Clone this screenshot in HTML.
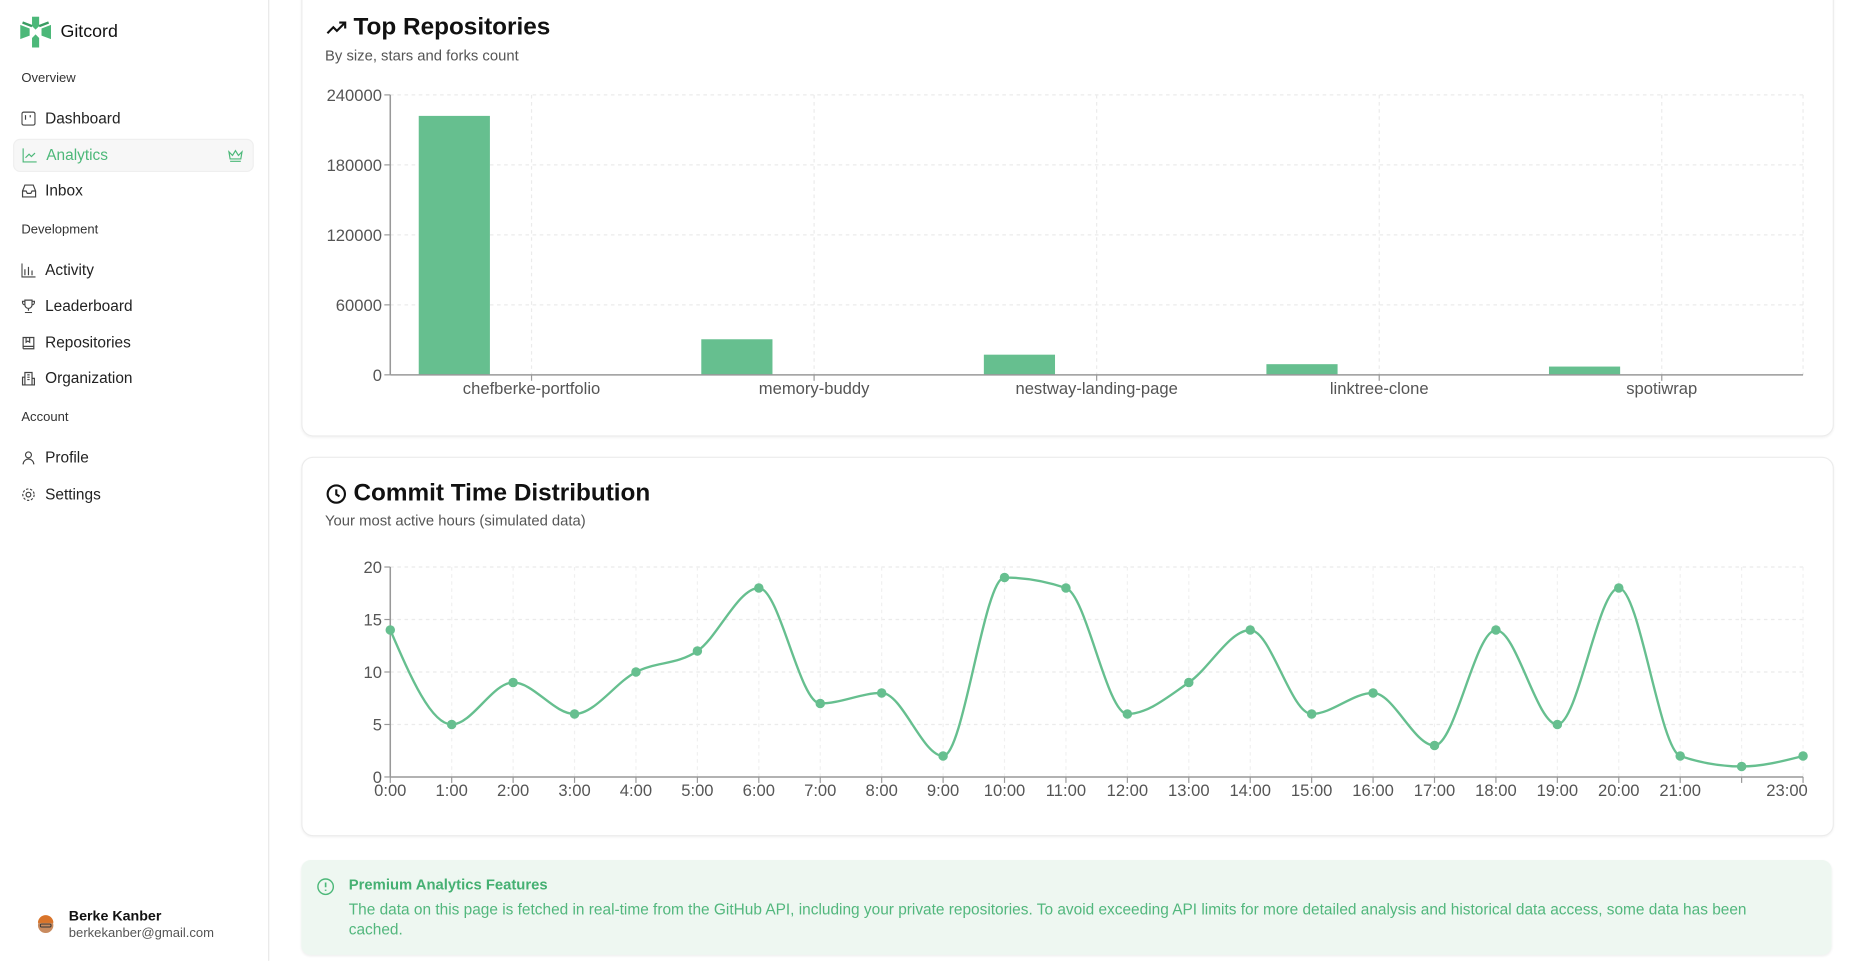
<!DOCTYPE html>
<html><head><meta charset="utf-8">
<style>
html,body{margin:0;padding:0;width:1860px;height:960px;overflow:hidden;background:#fff;font-family:"Liberation Sans",sans-serif;}
#root{position:absolute;left:0;top:0;width:1568px;height:810px;transform:scale(1.18622);transform-origin:0 0;}
.abs{position:absolute;}
.side{left:0;top:0;width:226px;height:810px;border-right:1px solid #e8e8e8;}
.sec{left:18px;font-size:11px;color:#333;font-weight:500;}
.item{left:11px;width:201px;height:26px;font-size:13px;color:#222;border-radius:6px;}
.item span.t{position:absolute;left:27px;top:5px;}
.item svg{position:absolute;left:7px;top:7px;}
.card{left:254px;width:1290px;border:1px solid #ececec;border-radius:10px;background:#fff;box-shadow:0 1px 2px rgba(0,0,0,.05);}
.title{font-size:20.5px;font-weight:700;color:#111;}
.sub{font-size:12.5px;color:#555;}
</style></head><body>
<div id="root">
<div class="abs side">
  <svg class="abs" style="left:17px;top:14px" width="26" height="26" viewBox="0 0 26 26"><path d="M10 0h6v8l-3 3-3-3zM0 7l8 3v6L0 19zM26 7l-8 3v6l8 3zM10 26h6v-8l-3-3-3 3z" fill="#4cb879"/><path d="M2 5l8 3M24 5l-8 3" stroke="#3a9c62" stroke-width="2"/></svg>
  <div class="abs" style="left:51px;top:18px;font-size:15px;color:#111">Gitcord</div>
  <div class="abs sec" style="top:60px">Overview</div>
  <div class="abs item" style="top:87px"><svg width="12" height="12"><rect x="0.5" y="0.5" width="11" height="11" rx="1.5" fill="none" stroke="#444"/><path d="M3.5 3v4M7.5 3v2" stroke="#444"/></svg><span class="t">Dashboard</span></div>
  <div class="abs item" style="top:117px;background:#f7f7f7;border:1px solid #efefef;color:#4cb879"><svg width="12" height="12"><path d="M0.5 0v11.5H12M2.5 8l3-3 2 2 3-3" fill="none" stroke="#4cb879"/></svg><span class="t">Analytics</span><svg style="left:180px;top:7px" width="13" height="12"><path d="M1 3l3 3 2.5-4 2.5 4 3-3-1 6H2z M2 11h9" fill="none" stroke="#4cb879"/></svg></div>
  <div class="abs item" style="top:148px"><svg width="13" height="12"><path d="M1 6l2-5h7l2 5v5H1zM1 6h3l1 2h3l1-2h3" fill="none" stroke="#444"/></svg><span class="t">Inbox</span></div>
  <div class="abs sec" style="top:188px">Development</div>
  <div class="abs item" style="top:215px"><svg width="12" height="12"><path d="M0.5 0v11.5H12M3 10V5M6 10V3M9 10V6" fill="none" stroke="#444"/></svg><span class="t">Activity</span></div>
  <div class="abs item" style="top:245px"><svg width="12" height="12"><path d="M3 1h6v4a3 3 0 0 1-6 0zM6 8v2M3 11.5h6M3 2H1v1a2 2 0 0 0 2 2M9 2h2v1a2 2 0 0 1-2 2" fill="none" stroke="#444"/></svg><span class="t">Leaderboard</span></div>
  <div class="abs item" style="top:276px"><svg width="12" height="12"><path d="M1.5 11V1.5h9v9.5h-9M1.5 9h9M4 1.5v4l1.5-1 1.5 1v-4" fill="none" stroke="#444"/></svg><span class="t">Repositories</span></div>
  <div class="abs item" style="top:306px"><svg width="12" height="12"><path d="M3 11.5V1h6v10.5M0.5 11.5h11M1 11V5h2M9 6h2v5M5 3h2M5 5h2M5 7h2" fill="none" stroke="#444"/></svg><span class="t">Organization</span></div>
  <div class="abs sec" style="top:346px">Account</div>
  <div class="abs item" style="top:373px"><svg width="12" height="12"><circle cx="6" cy="3.5" r="2.5" fill="none" stroke="#444"/><path d="M1.5 11.5a4.5 4.5 0 0 1 9 0" fill="none" stroke="#444"/></svg><span class="t">Profile</span></div>
  <div class="abs item" style="top:404px"><svg width="12" height="12"><circle cx="6" cy="6" r="2" fill="none" stroke="#444"/><circle cx="6" cy="6" r="4.8" fill="none" stroke="#444" stroke-dasharray="2 1.4"/></svg><span class="t">Settings</span></div>
  <svg class="abs" style="left:30px;top:770px" width="17" height="18"><circle cx="8.5" cy="10" r="6.5" fill="#c98b5f"/><path d="M2 8a6.5 6.5 0 0 1 13 0z" fill="#d9742a"/><rect x="4" y="9" width="9" height="2.5" rx="1" fill="none" stroke="#333" stroke-width="0.8"/></svg>
  <div class="abs" style="left:58px;top:765px;font-size:12px;font-weight:700;color:#111">Berke Kanber</div>
  <div class="abs" style="left:58px;top:781px;font-size:11px;color:#555">berkekanber@gmail.com</div>
</div>

<div class="abs card" style="top:-20px;height:386px">
  <svg class="abs" style="left:20px;top:36px" width="18" height="12"><path d="M1 11l5-5 3 3 7-7M11 2h5v5" fill="none" stroke="#111" stroke-width="1.8"/></svg>
  <div class="abs title" style="left:43px;top:30px">Top Repositories</div>
  <div class="abs sub" style="left:19px;top:59px">By size, stars and forks count</div>
</div>
<div class="abs card" style="top:385px;height:318px">
  <svg class="abs" style="left:20px;top:22px" width="17" height="17"><circle cx="8.5" cy="8.5" r="7.3" fill="none" stroke="#111" stroke-width="1.8"/><path d="M8.5 4.5v4.3l2.7 1.6" fill="none" stroke="#111" stroke-width="1.8"/></svg>
  <div class="abs title" style="left:43px;top:18px">Commit Time Distribution</div>
  <div class="abs sub" style="left:19px;top:46px">Your most active hours (simulated data)</div>
</div>
<svg id="charts" class="abs" style="left:0;top:0" width="1568" height="810"></svg>

<div class="abs" style="left:254px;top:725px;width:1290px;height:80px;background:#eef7f1;border-radius:8px;box-shadow:0 1px 2px rgba(0,0,0,.06)">
  <svg class="abs" style="left:13px;top:15px" width="15" height="15"><circle cx="7.5" cy="7.5" r="6.5" fill="none" stroke="#4cb879" stroke-width="1.2"/><path d="M7.5 4v4M7.5 10v1" stroke="#4cb879" stroke-width="1.4"/></svg>
  <div class="abs" style="left:40px;top:14px;font-size:12.5px;font-weight:600;color:#45b072">Premium Analytics Features</div>
  <div class="abs" style="left:40px;top:34px;width:1225px;font-size:13px;line-height:16.5px;color:#52b77d">The data on this page is fetched in real-time from the GitHub API, including your private repositories. To avoid exceeding API limits for more detailed analysis and historical data access, some data has been cached.</div>
</div>
</div>
<script>
const repoNames = ["chefberke-portfolio","memory-buddy","nestway-landing-page","linktree-clone","spotiwrap"];
const repoSizes = [222000,30500,17300,9150,7100];
const repoTicks = [0,60000,120000,180000,240000];
const hours = ["0:00","1:00","2:00","3:00","4:00","5:00","6:00","7:00","8:00","9:00","10:00","11:00","12:00","13:00","14:00","15:00","16:00","17:00","18:00","19:00","20:00","21:00","22:00","23:00"];
const commits = [14,5,9,6,10,12,18,7,8,2,19,18,6,9,14,6,8,3,14,5,18,2,1,2];
const commitTicks = [0,5,10,15,20];

const NS="http://www.w3.org/2000/svg";
const svg=document.getElementById('charts');
function mk(tag,attrs,parent){const e=document.createElementNS(NS,tag);for(const k in attrs)e.setAttribute(k,attrs[k]);(parent||svg).appendChild(e);return e;}
const GREEN="#66bf8f", AX="#999", TXT="#555";

// Bar chart
const b={x0:329,x1:1520,y0:316,y1:80,max:240000};
const by=v=>b.y0-(v/b.max)*(b.y0-b.y1);
const band=(b.x1-b.x0)/repoNames.length;
const bx=i=>b.x0+band*i;
const g1=mk('g',{});


repoTicks.forEach(t=>{if(t>0){const l=mk('line',{x1:b.x0,x2:b.x1,y1:by(t),y2:by(t),stroke:"#ebebeb","stroke-dasharray":"3 3"},g1);}});
repoNames.forEach((n,i)=>{const c=bx(i)+band/2;const l=mk('line',{x1:c,x2:c,y1:b.y1,y2:b.y0,stroke:"#ebebeb","stroke-dasharray":"3 3"},g1);});
mk('line',{x1:b.x1,x2:b.x1,y1:b.y1,y2:b.y0,stroke:"#ebebeb","stroke-dasharray":"3 3"},g1);
repoSizes.forEach((v,i)=>{const r=mk('rect',{x:bx(i)+24,y:by(v),width:60,height:b.y0-by(v),fill:GREEN},g1);});
mk('line',{x1:b.x0,x2:b.x0,y1:b.y1,y2:b.y0,stroke:AX,"stroke-width":1.3},g1);
mk('line',{x1:b.x0,x2:b.x1,y1:b.y0,y2:b.y0,stroke:AX,"stroke-width":1.3},g1);
repoTicks.forEach(t=>{mk('line',{x1:b.x0-5,x2:b.x0,y1:by(t),y2:by(t),stroke:AX},g1);const tx=mk('text',{x:b.x0-7,y:by(t)+5,"text-anchor":"end","font-size":14,fill:TXT},g1);tx.textContent=t;});
repoNames.forEach((n,i)=>{const c=bx(i)+band/2;mk('line',{x1:c,x2:c,y1:b.y0,y2:b.y0+5,stroke:AX},g1);const tx=mk('text',{x:c,y:b.y0+16,"text-anchor":"middle","font-size":14,fill:TXT},g1);tx.textContent=n;});

// Line chart
const L={x0:329,x1:1520,y0:655,y1:478,max:20};
const lx=i=>L.x0+(L.x1-L.x0)*i/(hours.length-1);
const ly=v=>L.y0-(v/L.max)*(L.y0-L.y1);
const g2=mk('g',{});


commitTicks.forEach(t=>{if(t>0){const l=mk('line',{x1:L.x0,x2:L.x1,y1:ly(t),y2:ly(t),stroke:"#ebebeb","stroke-dasharray":"3 3"},g2);}});
hours.forEach((h,i)=>{if(i>0){const l=mk('line',{x1:lx(i),x2:lx(i),y1:L.y1,y2:L.y0,stroke:"#f0f0f0","stroke-dasharray":"3 3"},g2);}});
const xs=commits.map((v,i)=>lx(i)), ys=commits.map(v=>ly(v));
const n=xs.length, sl=[], tg=[];
for(let i=0;i<n-1;i++)sl.push((ys[i+1]-ys[i])/(xs[i+1]-xs[i]));
for(let i=0;i<n;i++){
 if(i===0)tg.push(sl[0]);else if(i===n-1)tg.push(sl[n-2]);
 else{const s0=sl[i-1],s1=sl[i];if(s0*s1<=0)tg.push(0);else{const h0=xs[i]-xs[i-1],h1=xs[i+1]-xs[i],p=(s0*h1+s1*h0)/(h0+h1);tg.push((Math.sign(s0)+Math.sign(s1))*Math.min(Math.abs(s0),Math.abs(s1),0.5*Math.abs(p)));}}
}
tg[0]=(3*sl[0]-tg[1])/2; tg[n-1]=(3*sl[n-2]-tg[n-2])/2;
let d="M"+xs[0]+","+ys[0];
for(let i=0;i<n-1;i++){const h=(xs[i+1]-xs[i])/3;d+=" C"+(xs[i]+h)+","+(ys[i]+h*tg[i])+" "+(xs[i+1]-h)+","+(ys[i+1]-h*tg[i+1])+" "+xs[i+1]+","+ys[i+1];}
const path=mk('path',{d:d,fill:"none",stroke:GREEN,"stroke-width":2},g2);


mk('line',{x1:L.x0,x2:L.x0,y1:L.y1,y2:L.y0,stroke:AX,"stroke-width":1.3},g2);
mk('line',{x1:L.x0,x2:L.x1,y1:L.y0,y2:L.y0,stroke:AX,"stroke-width":1.3},g2);
commits.forEach((v,i)=>{const c=mk('circle',{cx:lx(i),cy:ly(v),r:4,fill:GREEN},g2);});
commitTicks.forEach(t=>{mk('line',{x1:L.x0-5,x2:L.x0,y1:ly(t),y2:ly(t),stroke:AX},g2);const tx=mk('text',{x:L.x0-7,y:ly(t)+5,"text-anchor":"end","font-size":14,fill:TXT},g2);tx.textContent=t;});
hours.forEach((h,i)=>{mk('line',{x1:lx(i),x2:lx(i),y1:L.y0,y2:L.y0+5,stroke:AX},g2);if(i===22)return;const last=i===hours.length-1;const tx=mk('text',{x:last?lx(i)+4:lx(i),y:L.y0+16,"text-anchor":last?"end":"middle","font-size":14,fill:TXT},g2);tx.textContent=h;});
</script>
</body></html>
